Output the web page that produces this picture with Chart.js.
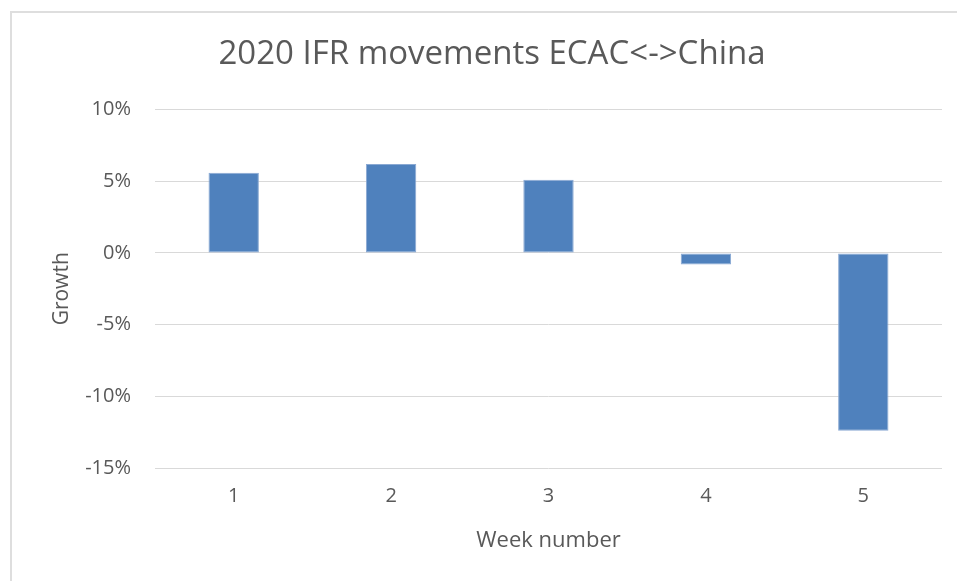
<!DOCTYPE html>
<html>
<head>
<meta charset="utf-8">
<script src="https://cdn.jsdelivr.net/npm/chart.js@4"></script>
<style>
  html, body { margin: 0; padding: 0; background: #fff; }
  #wrap { position: relative; width: 957px; height: 581px; }
  #frame { position: absolute; left: 10px; top: 11px; right: 0; bottom: 0;
           border-top: 2px solid #dedede; border-left: 2px solid #dedede; }
  canvas { position: absolute; left: 0; top: 0; }
</style>
</head>
<body>
<div id="wrap">
  <div id="frame"></div>
  <canvas id="barchart" width="957" height="581"></canvas>
</div>
<script>
// Data
const weeks = ['1', '2', '3', '4', '5'];
const growth = [5.6, 6.2, 5.1, -0.8, -12.4];
const yTicks = [-15, -10, -5, 0, 5, 10];

const textColor = '#595959';
const font = 'Open Sans';

new Chart('barchart', {
    type: 'bar',
    data: {
        labels: weeks,
        datasets: [{
            data: growth,
            backgroundColor: '#4f81bd',
            borderColor: '#8aa9d3',
            borderWidth: 1,
            borderSkipped: false,
            barPercentage: 0.32,
            categoryPercentage: 1
        }]
    },
    options: {
        responsive: false,
        animation: false,
        layout: {
            padding: {left: 42, right: 15, top: 0, bottom: 0}
        },
        plugins: {
            legend: {display: false},
            tooltip: {enabled: false},
            title: {
                display: true,
                text: '2020 IFR movements ECAC<->China',
                color: textColor,
                font: {family: font, size: 33, weight: 'normal'},
                padding: {top: 35, bottom: 35}
            }
        },
        scales: {
            x: {
                grid: {display: false, drawTicks: false},
                border: {display: false},
                ticks: {color: textColor, font: {family: font, size: 20}, padding: 16},
                title: {
                    display: true,
                    text: 'Week number',
                    color: textColor,
                    font: {family: font, size: 22},
                    padding: {top: 0, bottom: 27}
                },
                afterFit: (scale) => { scale.height = 113; }
            },
            y: {
                min: yTicks[0],
                max: yTicks[yTicks.length - 1],
                afterBuildTicks: (scale) => { scale.ticks = yTicks.map(v => ({value: v})); },
                grid: {color: '#d9d9d9', lineWidth: 1, drawTicks: false},
                border: {display: false},
                ticks: {
                    color: textColor,
                    font: {family: font, size: 20},
                    padding: 24,
                    callback: (v) => v + '%'
                },
                title: {
                    display: true,
                    text: 'Growth',
                    color: textColor,
                    font: {family: font, size: 21},
                    padding: {top: 7, bottom: 0}
                },
                afterFit: (scale) => { scale.width = 113; }
            }
        }
    }
});
</script>
</body>
</html>
